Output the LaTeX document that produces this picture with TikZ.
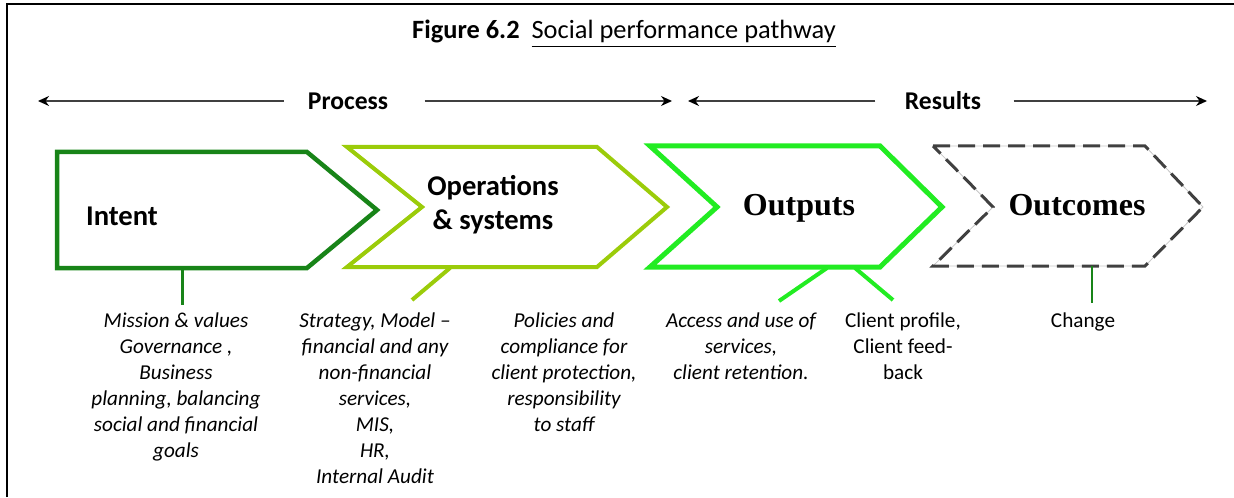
\documentclass[tikz,border=0pt]{standalone}
\usepackage{fontspec}
\setmainfont{Carlito}
\newfontfamily\stagefont{Liberation Serif}
\usetikzlibrary{arrows.meta}
\usepackage{xcolor}

\definecolor{intentgreen}{RGB}{24,132,24}
\definecolor{opsgreen}{RGB}{155,204,10}
\definecolor{outgreen}{RGB}{34,236,34}
\definecolor{dashgray}{RGB}{64,64,64}

\tikzset{
  note/.style={align=center, anchor=north, inner sep=0pt,
    font=\fontsize{10.6}{13}\selectfont\itshape},
  plainnote/.style={note, font=\fontsize{10.6}{13}\selectfont},
  stage/.style={align=center, inner sep=0pt,
    font=\fontsize{14.3}{17}\selectfont\bfseries},
  serifstage/.style={stage, font=\fontsize{16}{18}\selectfont\stagefont\bfseries},
}

\begin{document}
\begin{tikzpicture}[x=0.5pt,y=-0.5pt]
  \useasboundingbox (0,0) rectangle (1234,497);

  % frame
  \draw[line width=1.2pt] (7,497) -- (7,4) -- (1234,4);

  \node (title) [anchor=base] at (624,39)
    {\fontsize{13.2}{15}\selectfont\textbf{Figure 6.2}\ \ \underline{Social performance pathway}};

  % process / results bar
  \begin{scope}[every node/.style={inner sep=0pt,font=\fontsize{12.8}{15}\selectfont\bfseries}]
    \node (process) at (348,101) {Process};
    \node (results) at (943,101) {Results};
  \end{scope}
  \coordinate (process-l) at (38,101);
  \coordinate (process-r) at (672,101);
  \coordinate (results-l) at (688,101);
  \coordinate (results-r) at (1207,101);

  \begin{scope}[>={Stealth[black,length=5.5pt,width=5pt]},
      every edge/.style={draw=black!75,line width=0.75pt}]
    \path [->] (process) edge[shorten <=12pt] (process-l);
    \path [->] (process) edge[shorten <=18pt] (process-r);
    \path [->] (results) edge[shorten <=14.5pt] (results-l);
    \path [->] (results) edge[shorten <=16pt] (results-r);
  \end{scope}

  % the four stages
  \draw[intentgreen,line width=2.25pt]
    (57,152) -- (307,152) -- (377,210) -- (307,268) -- (57,268) -- cycle;
  \draw[opsgreen,line width=2pt]
    (347,147) -- (597,147) -- (667,207) -- (597,267) -- (347,267) -- (422,207) -- cycle;
  \draw[outgreen,line width=2.5pt]
    (650,146) -- (880,146) -- (942,207) -- (880,267) -- (650,267) -- (717,207) -- cycle;
  \draw[gray!45,line width=0.4pt]
    (933,146) -- (1145,146) -- (1203,207) -- (1145,266) -- (933,266) -- (993,207) -- cycle;
  \draw[dashgray,line width=1.5pt,dash pattern=on 8.5pt off 4pt]
    (933,146) -- (1145,146) -- (1203,207) -- (1145,266) -- (933,266) -- (993,207) -- cycle;

  \node[stage] (intent) at (122,216) {Intent};
  \node[stage] (ops) at (493,205) {Operations\\\& systems};
  \node[serifstage] (outputs) at (799,208) {Outputs};
  \node[serifstage] (outcomes) at (1077,205) {Outcomes};

  % tabs hanging from the stages
  \coordinate (intent-tab) at (182,268);
  \coordinate (intent-foot) at (182,305);
  \coordinate (ops-tab) at (450,268);
  \coordinate (ops-foot) at (412,300);
  \coordinate (outputs-tab1) at (827,268);
  \coordinate (outputs-foot1) at (779,301);
  \coordinate (outputs-tab2) at (855,268);
  \coordinate (outputs-foot2) at (893,300);
  \coordinate (outcomes-tab) at (1092,266);
  \coordinate (outcomes-foot) at (1092,303);

  \draw[intentgreen,line width=1.5pt] (intent-tab) -- (intent-foot);
  \draw[opsgreen,line width=2pt] (ops-tab) -- (ops-foot);
  \draw[outgreen,line width=2pt] (outputs-tab1) -- (outputs-foot1);
  \draw[outgreen,line width=2pt] (outputs-tab2) -- (outputs-foot2);
  \draw[intentgreen,line width=1.25pt] (outcomes-tab) -- (outcomes-foot);

  % notes under the stages
  \node[note] (mission) at (176,312)
    {Mission \& values\\Governance ,\\Business\\planning, balancing\\social and financial\\goals};
  \node[note] (strategy) at (375,312)
    {Strategy, Model --\\financial and any\\non-financial\\services,\\MIS,\\HR,\\Internal Audit};
  \node[note] (policies) at (564,312)
    {Policies and\\compliance for\\client protection,\\responsibility\\to staff};
  \node[note] (access) at (741,312)
    {Access and use of\\services,\\client retention.};
  \node[plainnote] (profile) at (903,312) {Client profile,\\Client feed-\\back};
  \node[plainnote] (change) at (1083,312) {Change};
\end{tikzpicture}
\end{document}
